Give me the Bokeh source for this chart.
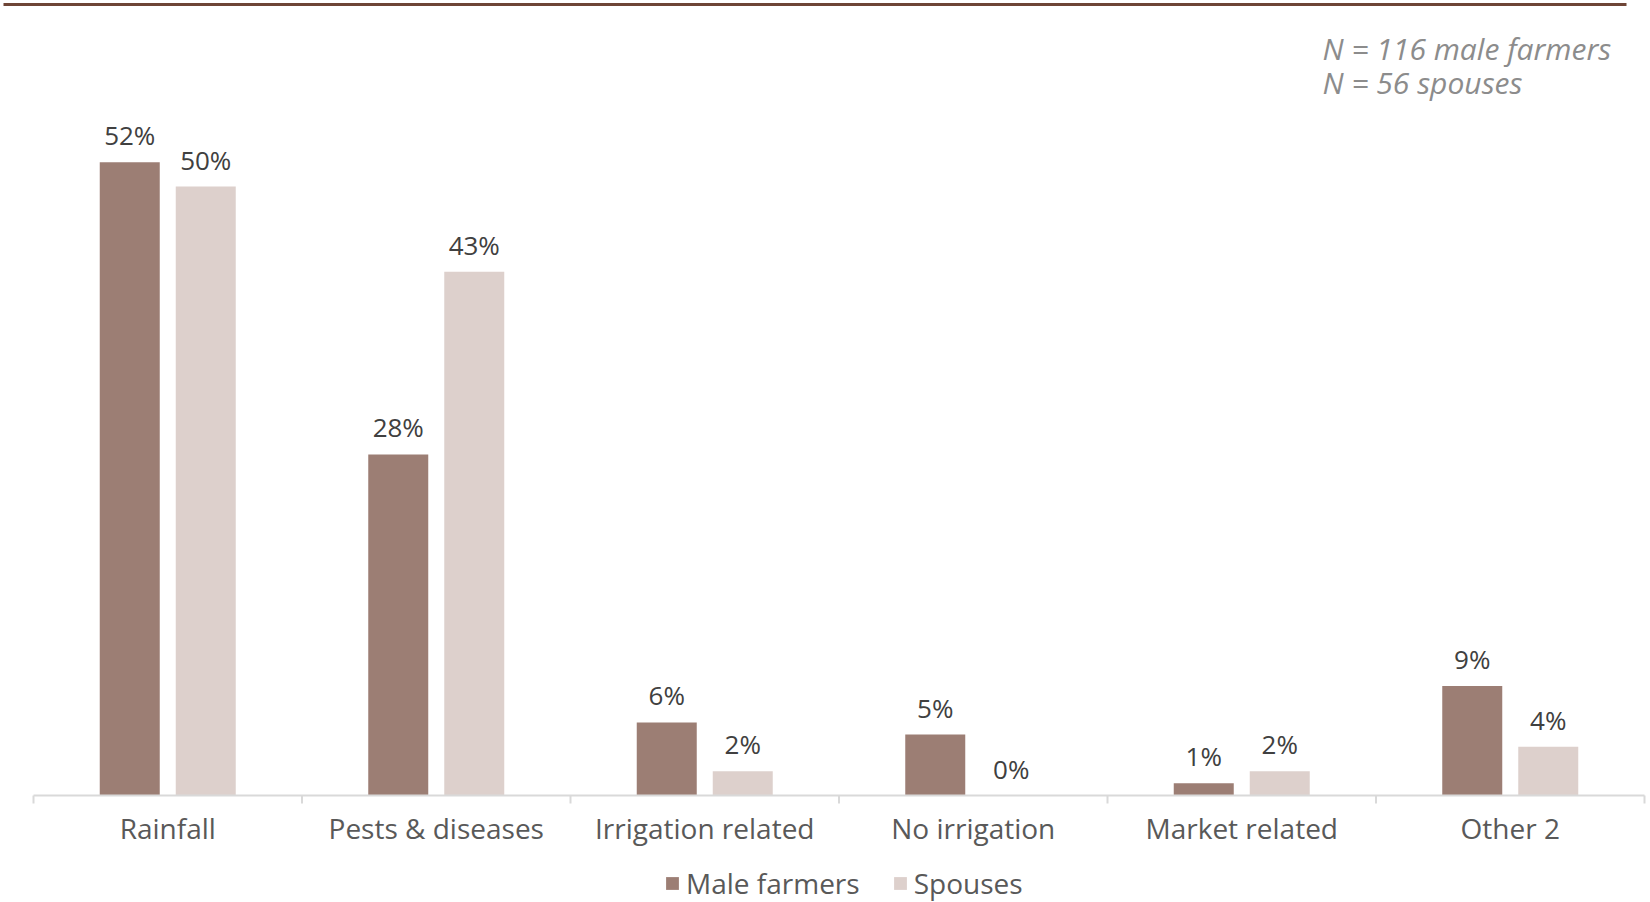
from bokeh.plotting import figure
from bokeh.models import Range1d, Legend, LegendItem, ColumnDataSource
from bokeh.core.properties import value
from bokeh.embed import file_html
from bokeh.resources import INLINE

# ---- data ----
categories = ["Rainfall", "Pests & diseases", "Irrigation related",
              "No irrigation", "Market related", "Other 2"]
male_farmers = [52, 28, 6, 5, 1, 9]
spouses = [50, 43, 2, 0, 2, 4]
series_names = ["Male farmers", "Spouses"]
notes = ["N = 116 male farmers", "N = 56 spouses"]

# ---- styles ----
FONT_NAME = "Open Sans"
FONT = value(FONT_NAME)
MALE_COLOR = "#9C7E74"
SPOUSE_COLOR = "#DDD0CC"
TEXT_COLOR = "#595959"
VALUE_COLOR = "#404040"
NOTE_COLOR = "#8C8C8C"
AXIS_COLOR = "#D9D9D9"

CAT_PX = 268.5          # pixels per category
LEFT_PX = 33.0          # left offset of first category
FIG_W = 1650
FIG_H = 902
AXIS_Y_PX = 795         # pixel row of the baseline (value 0)
PX_PER_PCT = 12.18

n = len(categories)
x_start = -LEFT_PX / CAT_PX
x_end = (FIG_W - LEFT_PX) / CAT_PX
y_end = AXIS_Y_PX / PX_PER_PCT
y_start = -(FIG_H - AXIS_Y_PX) / PX_PER_PCT

p = figure(width=FIG_W, height=FIG_H,
           x_range=Range1d(x_start, x_end), y_range=Range1d(y_start, y_end),
           x_axis_type=None, y_axis_type=None,
           output_backend="svg", toolbar_location=None,
           min_border_left=0, min_border_right=0,
           min_border_top=0, min_border_bottom=0)
p.outline_line_color = None
p.background_fill_color = "white"
p.border_fill_color = "white"

offset = 38.0 / CAT_PX
bar_w = 60.0 / CAT_PX
centers = [i + 0.5 for i in range(n)]
bounds = list(range(n + 1))

src = ColumnDataSource(dict(
    xm=[c - offset for c in centers],
    xs=[c + offset for c in centers],
    male=male_farmers,
    spouse=spouses,
    male_lbl=[f"{v}%" for v in male_farmers],
    spouse_lbl=[f"{v}%" for v in spouses],
))

r_m = p.vbar(x="xm", top="male", width=bar_w, source=src,
             fill_color=MALE_COLOR, line_color=None)
r_s = p.vbar(x="xs", top="spouse", width=bar_w, source=src,
             fill_color=SPOUSE_COLOR, line_color=None)

for xcol, ycol, tcol in (("xm", "male", "male_lbl"), ("xs", "spouse", "spouse_lbl")):
    p.text(x=xcol, y=ycol, text=tcol, source=src, text_align="center",
           text_baseline="alphabetic", y_offset=-27, text_font=FONT,
           text_font_size="26px", text_color=VALUE_COLOR)

# category axis: baseline, boundary ticks, labels at centres
tick_len = 8 / PX_PER_PCT
p.segment(x0=[0], y0=[0], x1=[n], y1=[0], line_color=AXIS_COLOR, line_width=2)
p.segment(x0=bounds, y0=[0] * len(bounds), x1=bounds, y1=[-tick_len] * len(bounds),
          line_color=AXIS_COLOR, line_width=2)
p.text(x=centers, y=[0] * n, text=categories, text_align="center",
       text_baseline="alphabetic", y_offset=32, text_font=FONT,
       text_font_size="28px", text_color=TEXT_COLOR)

# top decorative line
top_y = y_end - 4 / PX_PER_PCT
p.segment(x0=[(3 - LEFT_PX) / CAT_PX], y0=[top_y],
          x1=[(1626 - LEFT_PX) / CAT_PX], y1=[top_y],
          line_color="#6E4536", line_width=3)

# sample-size notes (top right)
note_x = (1322 - LEFT_PX) / CAT_PX
note_y = [(AXIS_Y_PX - 48) / PX_PER_PCT, (AXIS_Y_PX - 82) / PX_PER_PCT]
p.text(x=[note_x, note_x], y=note_y, text=notes, text_align="left",
       text_baseline="alphabetic", text_font=FONT, text_font_size="30px",
       text_font_style="italic", text_color=NOTE_COLOR)

legend = Legend(items=[LegendItem(label=series_names[0], renderers=[r_m]),
                       LegendItem(label=series_names[1], renderers=[r_s])],
                orientation="horizontal", location=(664, 0),
                label_text_font=FONT_NAME, label_text_font_size="28px",
                label_text_color=TEXT_COLOR, glyph_width=16, glyph_height=16,
                label_standoff=6, spacing=32, padding=0, margin=0,
                border_line_color=None, background_fill_alpha=0)
p.add_layout(legend, "center")

open("out.html", "w").write(file_html(p, INLINE))
